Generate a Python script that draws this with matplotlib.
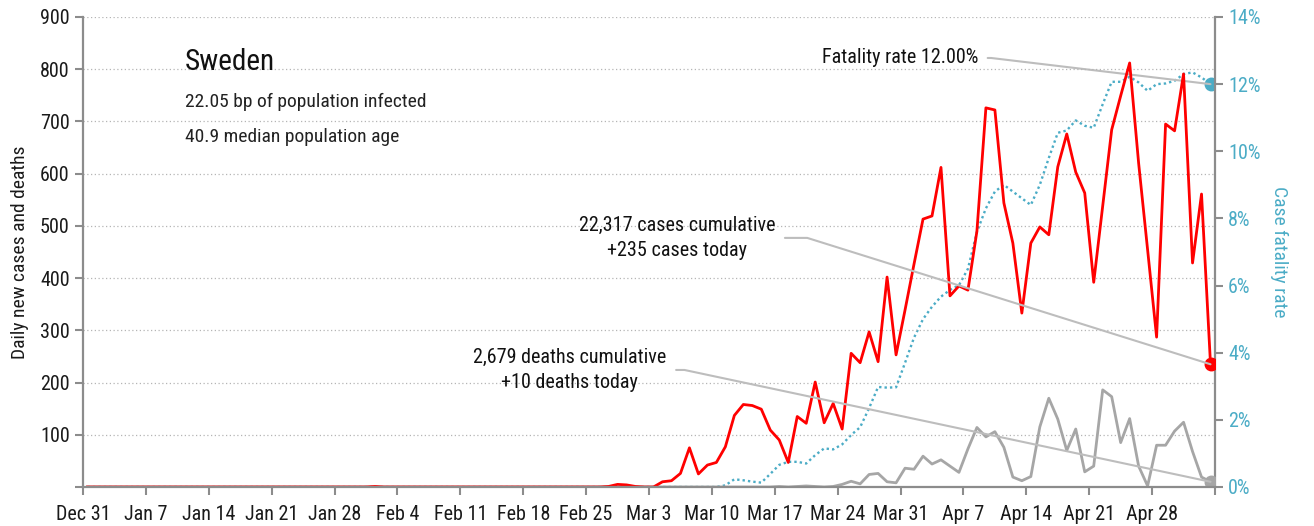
import matplotlib
matplotlib.use('Agg')
import pandas as pd
from matplotlib import pyplot as plt
from matplotlib import font_manager

# pick a condensed face if one is there
names = {f.name for f in font_manager.fontManager.ttflist}
fam = 'DejaVu Sans'
for cand in ['Liberation Sans Narrow', 'Roboto Condensed', 'Open Sans Condensed', 'Liberation Sans']:
    if cand in names:
        fam = cand
        break
plt.rcParams['font.family'] = [fam, 'DejaVu Sans']

# daily values, Dec 31 2019 .. May 4 2020
cases = [
    0, 0, 0, 0, 0, 0, 0, 0, 0, 0, 0, 0, 0, 0,
    0, 0, 0, 0, 0, 0, 0, 0, 0, 0, 0, 0, 0, 0,
    0, 0, 0, 0, 1, 0, 0, 0, 0, 0, 0, 0, 0, 0,
    0, 0, 0, 0, 0, 0, 0, 0, 0, 0, 0, 0, 0, 0,
    0, 0, 1, 5, 4, 1, 0, 0, 10, 12, 26, 75, 25, 42,
    47, 77, 137, 158, 156, 149, 109, 90, 47, 135, 122, 201, 123, 160,
    111, 256, 238, 297, 240, 402, 253, 339, 427, 513, 519, 612, 366, 385,
    377, 490, 726, 722, 544, 467, 333, 467, 498, 483, 613, 676, 603, 563,
    392, 538, 684, 749, 812, 620, 454, 287, 695, 682, 791, 429, 561, 235,
]
deaths = [
    0, 0, 0, 0, 0, 0, 0, 0, 0, 0, 0, 0, 0, 0,
    0, 0, 0, 0, 0, 0, 0, 0, 0, 0, 0, 0, 0, 0,
    0, 0, 0, 0, 0, 0, 0, 0, 0, 0, 0, 0, 0, 0,
    0, 0, 0, 0, 0, 0, 0, 0, 0, 0, 0, 0, 0, 0,
    0, 0, 0, 0, 0, 0, 0, 0, 0, 0, 0, 0, 0, 0,
    0, 0, 0, 0, 0, 0, 0, 1, 0, 1, 2, 1, 0, 1,
    5, 11, 6, 24, 26, 10, 8, 36, 34, 59, 44, 52, 40, 28,
    73, 114, 96, 106, 76, 19, 12, 20, 115, 170, 130, 70, 111, 29,
    40, 186, 173, 85, 131, 40, 2, 80, 80, 107, 124, 68, 19, 10,
]
# case fatality rate, %
rate = [
    0, 0, 0, 0, 0, 0, 0, 0, 0, 0, 0, 0, 0, 0,
    0, 0, 0, 0, 0, 0, 0, 0, 0, 0, 0, 0, 0, 0,
    0, 0, 0, 0, 0, 0, 0, 0, 0, 0, 0, 0, 0, 0,
    0, 0, 0, 0, 0, 0, 0, 0, 0, 0, 0, 0, 0, 0,
    0, 0, 0, 0, 0, 0, 0, 0, 0, 0, 0, 0, 0, 0,
    0, 0.05, 0.23, 0.2, 0.16, 0.13, 0.39, 0.66, 0.75, 0.75, 0.7, 0.95, 1.15, 1.12,
    1.27, 1.55, 1.78, 2.35, 2.98, 2.96, 2.97, 3.7, 4.45, 5.0, 5.37, 5.67, 5.87, 6.01,
    6.5, 7.6, 8.3, 8.8, 9.0, 8.8, 8.6, 8.4, 9.0, 9.8, 10.55, 10.62, 10.92, 10.76,
    10.7, 11.4, 12.07, 12.07, 12.22, 12.05, 11.8, 12.0, 12.02, 12.1, 12.3, 12.35, 12.2, 12.0,
]
tick_labels = ['Dec 31', 'Jan 7', 'Jan 14', 'Jan 21', 'Jan 28', 'Feb 4', 'Feb 11',
               'Feb 18', 'Feb 25', 'Mar 3', 'Mar 10', 'Mar 17', 'Mar 24', 'Mar 31',
               'Apr 7', 'Apr 14', 'Apr 21', 'Apr 28', '']
country = 'Sweden'
info = ['22.05 bp of population infected', '40.9 median population age']
cases_note = '22,317 cases cumulative\n+235 cases today'
deaths_note = '2,679 deaths cumulative\n+10 deaths today'
rate_note = 'Fatality rate 12.00%'

RED = '#ff0000'
GREY = '#a6a6a6'
BLUE = '#4bacc6'
AXC = '#8c8c8c'
LEAD = '#bdbdbd'
FS = 14.5

days = pd.date_range('2019-12-31', periods=len(cases), freq='D')
x = days + pd.Timedelta(hours=12)

fig = plt.figure(figsize=(13.14, 5.26), dpi=100)
ax = fig.add_axes([83 / 1314, 1 - 487 / 526, 1132 / 1314, 470 / 526])
ax2 = ax.twinx()
ax.set_zorder(ax2.get_zorder() + 1)
ax.patch.set_visible(False)

ax2.plot(x, rate, color=BLUE, lw=1.7, ls=(0, (1, 1.3)))
ax2.plot(x[-1:], rate[-1:], 'o', color=BLUE, ms=9)
ax.plot(x, deaths, color=GREY, lw=2)
ax.plot(x, cases, color=RED, lw=2)
ax.plot(x[-1:], cases[-1:], 'o', color=RED, ms=9)
ax.plot(x[-1:], deaths[-1:], 'o', color=GREY, ms=9)

ax.set_ylim(0, 900)
ax2.set_ylim(0, 14)
ax.set_xlim(days[0], days[-1] + pd.Timedelta(days=1))

ax.set_yticks(range(0, 1000, 100))
ax.set_yticklabels([''] + [str(v) for v in range(100, 1000, 100)])
ax2.set_yticks(range(0, 16, 2))
ax2.set_yticklabels(['%d%%' % v for v in range(0, 16, 2)])
ticks = pd.date_range('2019-12-31', periods=len(tick_labels), freq='7D')
ticks = list(ticks[:-1]) + [days[-1] + pd.Timedelta(days=1)]
ax.set_xticks(ticks)
ax.set_xticklabels(tick_labels)

ax.yaxis.grid(True, ls=(0, (1, 2)), color='#b5b5b5', lw=0.9)
ax.set_axisbelow(True)

for a in (ax, ax2):
    a.spines['top'].set_visible(False)
    for s in ('left', 'right', 'bottom'):
        a.spines[s].set_color(AXC)
        a.spines[s].set_linewidth(1.6)
ax.spines['right'].set_visible(False)
ax2.spines['left'].set_visible(False)
ax2.spines['bottom'].set_visible(False)

ax.tick_params(axis='both', colors=AXC, width=1.5, length=6, labelsize=FS,
               labelcolor='#1a1a1a')
ax.tick_params(axis='x', pad=7)
ax2.tick_params(axis='y', colors=AXC, width=1.5, length=6, labelsize=FS,
                labelcolor=BLUE)

ax.set_ylabel('Daily new cases and deaths', fontsize=14, color='#1a1a1a', labelpad=8)
ax2.set_ylabel('Case fatality rate', fontsize=14, color=BLUE, rotation=270, labelpad=20)

ax.text(0.09, 0.904, country, transform=ax.transAxes, fontsize=21, va='center',
        color='#111111')
ax.text(0.09, 0.819, info[0], transform=ax.transAxes, fontsize=14, va='center',
        color='#222222')
ax.text(0.09, 0.745, info[1], transform=ax.transAxes, fontsize=14, va='center',
        color='#222222')

lead = dict(arrowstyle='-', color=LEAD, lw=1.5, shrinkA=5, shrinkB=0)
ax2.annotate(rate_note, xy=(x[-1], rate[-1]), xytext=(0.7906, 0.9128),
             textcoords='axes fraction', ha='right', va='center', fontsize=FS,
             color='#111111',
             arrowprops=dict(lead, relpos=(1, 0.5),
                             connectionstyle='angle,angleA=0,angleB=-6.8,rad=0'))
ax.annotate(cases_note, xy=(x[-1], cases[-1]), xytext=(0.5247, 0.530),
            textcoords='axes fraction', ha='center', va='center', fontsize=FS,
            color='#111111', linespacing=1.35,
            arrowprops=dict(lead, relpos=(1, 0.5),
                            connectionstyle='angle,angleA=0,angleB=-17.4,rad=0'))
ax.annotate(deaths_note, xy=(x[-1], deaths[-1]), xytext=(0.430, 0.249),
            textcoords='axes fraction', ha='center', va='center', fontsize=FS,
            color='#111111', linespacing=1.35,
            arrowprops=dict(lead, relpos=(1, 0.5),
                            connectionstyle='angle,angleA=0,angleB=-12.0,rad=0'))

plt.savefig('out.png', dpi=100)
